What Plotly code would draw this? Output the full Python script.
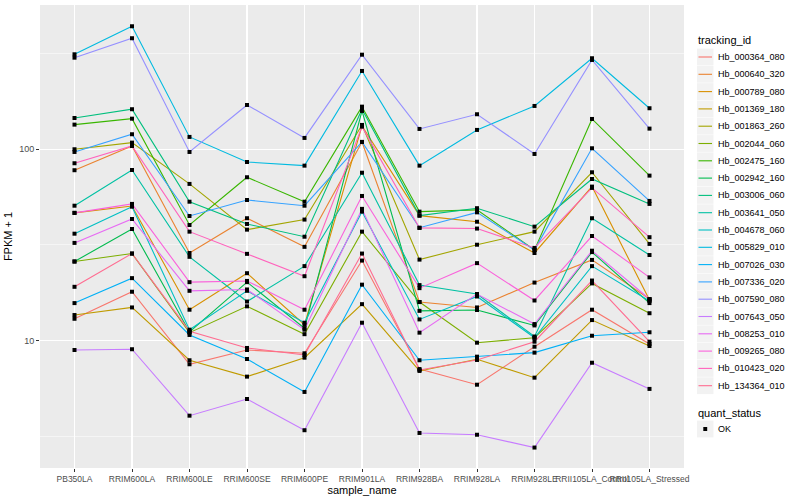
import plotly.graph_objects as go

samples = ["PB350LA", "RRIM600LA", "RRIM600LE", "RRIM600SE", "RRIM600PE", "RRIM901LA",
           "RRIM928BA", "RRIM928LA", "RRIM928LE", "RRII105LA_Control", "RRII105LA_Stressed"]

tracking_ids = ["Hb_000364_080", "Hb_000640_320", "Hb_000789_080", "Hb_001369_180", "Hb_001863_260",
                "Hb_002044_060", "Hb_002475_160", "Hb_002942_160", "Hb_003006_060", "Hb_003641_050",
                "Hb_004678_060", "Hb_005829_010", "Hb_007026_030", "Hb_007336_020", "Hb_007590_080",
                "Hb_007643_050", "Hb_008253_010", "Hb_009265_080", "Hb_010423_020", "Hb_134364_010"]

colors = ["#F8766D", "#EA8331", "#D89000", "#C09B00", "#A3A500", "#7CAE00", "#39B600", "#00BB4E",
          "#00BF7D", "#00C1A3", "#00BFC4", "#00BAE0", "#00B0F6", "#35A2FF", "#9590FF", "#C77CFF",
          "#E76BF3", "#FA62DB", "#FF62BC", "#FF6C91"]

# FPKM + 1 values per gene, one value per sample
Hb_000364_080 = [13.0, 18.0, 7.52, 8.93, 8.58, 26.2, 7.10, 5.88, 9.29, 14.5, 9.60]
Hb_000640_320 = [77.7, 104.0, 28.7, 43.6, 30.9, 109.2, 15.9, 14.9, 20.1, 26.4, 16.5]
Hb_000789_080 = [46.5, 50.5, 14.5, 22.5, 12.1, 132.4, 45.0, 41.8, 28.7, 63.8, 16.3]
Hb_001369_180 = [13.6, 14.9, 7.89, 6.48, 8.14, 15.5, 6.94, 7.99, 6.40, 12.8, 9.37]
Hb_001863_260 = [100.0, 108.3, 65.9, 38.0, 42.9, 134.0, 26.5, 31.7, 37.1, 75.8, 32.0]
Hb_002044_060 = [25.9, 28.5, 11.0, 15.1, 10.8, 37.1, 15.9, 9.75, 10.35, 19.9, 13.9]
Hb_002475_160 = [134.5, 144.5, 40.2, 71.4, 53.2, 167.0, 47.2, 48.2, 29.8, 144.0, 72.8]
Hb_002942_160 = [25.9, 38.3, 11.1, 20.2, 11.6, 158.6, 14.3, 14.45, 12.0, 29.0, 15.7]
Hb_003006_060 = [145.7, 161.9, 53.2, 40.7, 34.9, 161.9, 45.0, 49.2, 39.4, 69.9, 51.8]
Hb_003641_050 = [50.7, 77.9, 27.4, 16.0, 24.5, 75.4, 19.5, 17.5, 10.5, 43.6, 28.0]
Hb_004678_060 = [36.2, 50.1, 11.4, 18.2, 12.4, 47.2, 12.9, 17.0, 10.35, 24.5, 16.1]
Hb_005829_010 = [313.6, 439.4, 116.0, 85.8, 82.1, 256.6, 82.1, 126.2, 168.4, 299.0, 163.8]
Hb_007026_030 = [15.7, 21.2, 10.7, 8.01, 5.39, 19.6, 7.89, 8.24, 8.65, 10.6, 11.05]
Hb_007336_020 = [96.8, 119.8, 44.8, 54.3, 50.7, 109.2, 38.9, 46.8, 29.8, 101.2, 53.7]
Hb_007590_080 = [301.1, 380.4, 96.8, 170.4, 114.6, 312.1, 127.7, 152.4, 94.5, 292.9, 128.2]
Hb_007643_050 = [8.93, 9.01, 4.05, 4.95, 3.40, 12.4, 3.29, 3.22, 2.76, 7.66, 5.59]
Hb_008253_010 = [32.4, 43.2, 18.2, 18.5, 11.4, 48.8, 11.0, 17.5, 12.2, 29.5, 16.5]
Hb_009265_080 = [46.5, 51.8, 20.2, 20.5, 14.5, 57.0, 18.8, 25.4, 16.2, 35.2, 21.4]
Hb_010423_020 = [84.5, 104.0, 37.1, 28.4, 21.7, 131.3, 38.8, 38.5, 30.5, 62.8, 34.7]
Hb_134364_010 = [19.1, 28.5, 11.2, 9.15, 8.41, 28.5, 7.02, 7.92, 9.87, 20.6, 9.87]

series = [Hb_000364_080, Hb_000640_320, Hb_000789_080, Hb_001369_180, Hb_001863_260,
          Hb_002044_060, Hb_002475_160, Hb_002942_160, Hb_003006_060, Hb_003641_050,
          Hb_004678_060, Hb_005829_010, Hb_007026_030, Hb_007336_020, Hb_007590_080,
          Hb_007643_050, Hb_008253_010, Hb_009265_080, Hb_010423_020, Hb_134364_010]

quant_status = ["OK"]

FONT = "Liberation Sans, Arial, sans-serif"
W, H = 800, 500
ML, MR, MT, MB = 40, 116, 5, 32
PW, PH = W - ML - MR, H - MT - MB


def px(x):
    return (x - ML) / PW


def py(y):
    return 1 - (y - MT) / PH


fig = go.Figure()
for name, vals, col in zip(tracking_ids, series, colors):
    fig.add_trace(go.Scatter(x=samples, y=vals, mode="lines", name=name,
                             line=dict(color=col, width=1.1), showlegend=False))

all_x, all_y = [], []
for vals in series:
    all_x += samples
    all_y += vals
fig.add_trace(go.Scatter(x=all_x, y=all_y, mode="markers", name=quant_status[0],
                         marker=dict(symbol="square", size=4, color="black"),
                         showlegend=False))

# ---- ggplot-style legends drawn as shapes + text ----
shapes, annotations = [], []
annotations.append(dict(text="tracking_id", x=px(696), y=py(40.5), xref="paper", yref="paper",
                        xanchor="left", yanchor="middle", showarrow=False,
                        font=dict(size=11, color="black", family=FONT)))
step = 17.3
for i, (name, col) in enumerate(zip(tracking_ids, colors)):
    cy = 57 + step * i
    shapes.append(dict(type="rect", xref="paper", yref="paper",
                       x0=px(697), x1=px(713.5), y0=py(cy - 8.4), y1=py(cy + 8.4),
                       fillcolor="#F2F2F2", line=dict(width=0), layer="above"))
    shapes.append(dict(type="line", xref="paper", yref="paper",
                       x0=px(698.5), x1=px(712), y0=py(cy), y1=py(cy),
                       line=dict(color=col, width=1.1), layer="above"))
    annotations.append(dict(text=name, x=px(716), y=py(cy), xref="paper", yref="paper",
                            xanchor="left", yanchor="middle", showarrow=False,
                            font=dict(size=9, color="black", family=FONT)))

annotations.append(dict(text="quant_status", x=px(696), y=py(412.5), xref="paper", yref="paper",
                        xanchor="left", yanchor="middle", showarrow=False,
                        font=dict(size=11, color="black", family=FONT)))
cy = 429
shapes.append(dict(type="rect", xref="paper", yref="paper",
                   x0=px(697), x1=px(713.5), y0=py(cy - 8.4), y1=py(cy + 8.4),
                   fillcolor="#F2F2F2", line=dict(width=0), layer="above"))
shapes.append(dict(type="rect", xref="paper", yref="paper",
                   x0=px(703.3), x1=px(707.2), y0=py(cy - 2), y1=py(cy + 2),
                   fillcolor="black", line=dict(width=0), layer="above"))
annotations.append(dict(text=quant_status[0], x=px(716), y=py(cy), xref="paper", yref="paper",
                        xanchor="left", yanchor="middle", showarrow=False,
                        font=dict(size=9, color="black", family=FONT)))

fig.update_layout(
    width=W, height=H,
    paper_bgcolor="white", plot_bgcolor="#EBEBEB",
    margin=dict(l=ML, r=MR, t=MT, b=MB, autoexpand=False),
    font=dict(family=FONT, size=9, color="#4D4D4D"),
    showlegend=False,
    shapes=shapes, annotations=annotations,
)

fig.update_xaxes(
    type="category", categoryorder="array", categoryarray=samples,
    range=[-0.6, len(samples) - 0.4],
    showgrid=True, gridcolor="white", gridwidth=1.1,
    ticks="outside", ticklen=3, tickcolor="#333333",
    tickfont=dict(size=8.5, color="#4D4D4D"), tickangle=0,
    showline=False, zeroline=False, automargin=False,
    title=dict(text="sample_name", font=dict(size=11, color="black"), standoff=1),
)

fig.update_yaxes(
    type="log", range=[0.334, 2.754],
    tickvals=[10, 100], ticktext=["10", "100"],
    showgrid=True, gridcolor="white", gridwidth=1.1,
    minor=dict(tickvals=[3.1623, 31.623, 316.23], showgrid=True, gridcolor="white",
               gridwidth=0.5, ticks=""),
    ticks="outside", ticklen=3, tickcolor="#333333",
    tickfont=dict(size=9, color="#4D4D4D"),
    showline=False, zeroline=False, automargin=False,
    title=dict(text="FPKM + 1", font=dict(size=11, color="black"), standoff=4),
)

fig.write_html("out.html",
               config={"displayModeBar": False, "staticPlot": True},
               post_script="document.body.style.margin='0';document.body.style.padding='0';")
